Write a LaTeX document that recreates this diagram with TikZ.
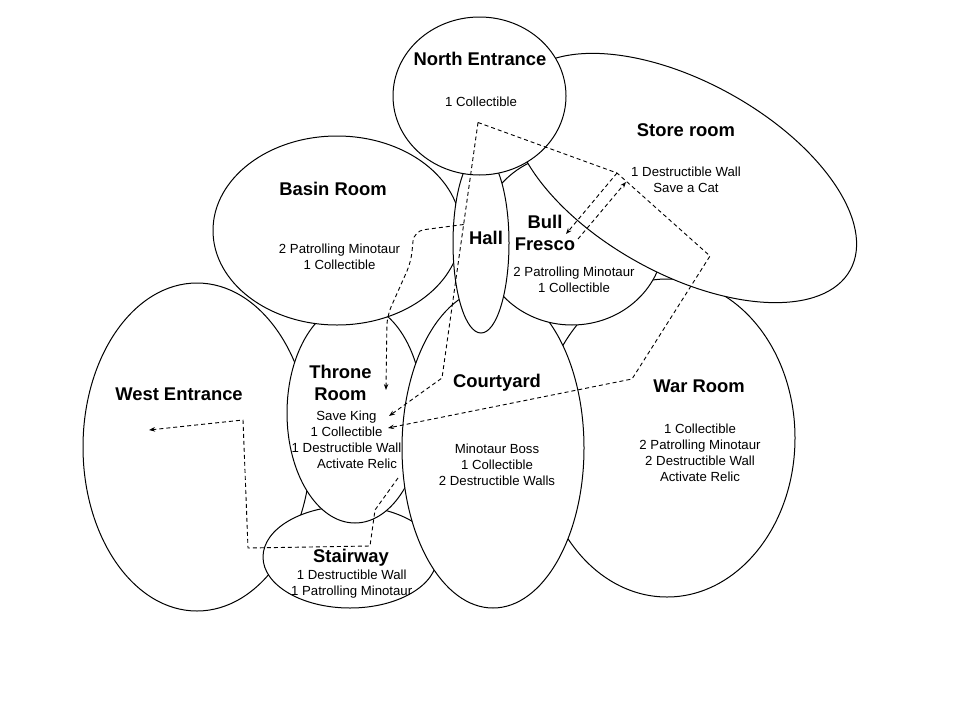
\documentclass[tikz,border=0pt]{standalone}
\usepackage{fontspec}
\setmainfont{Liberation Sans}
\usetikzlibrary{arrows.meta, shapes.geometric}

\begin{document}
\begin{tikzpicture}[x=1pt, y=-1pt,
    room/.style={draw, ellipse, fill=white, line width=1pt, inner sep=0pt},
    title/.style={font=\fontsize{18.4}{22}\selectfont\bfseries, align=center,
                  inner sep=0pt, anchor=north},
    info/.style={font=\fontsize{13.2}{16}\selectfont, align=center,
                 inner sep=0pt, anchor=north},
    route/.style={dash pattern=on 4pt off 3pt, line width=0.9pt,
                  -{Stealth[length=6pt, width=4.5pt]}}]

  \useasboundingbox (0,0) rectangle (960,720);

  % Rooms, back to front
  \node[room, minimum width=228pt, minimum height=328pt] (west) at (197,447) {};
  \node[room, minimum width=256pt, minimum height=318pt] (war) at (667,438) {};
  \node[room, minimum width=174pt, minimum height=102pt] (stair) at (350,557) {};
  \node[room, minimum width=136pt, minimum height=220pt] (throne) at (355,413) {};
  \node[room, minimum width=182pt, minimum height=320pt] (court) at (493,448) {};
  \node[room, minimum width=248pt, minimum height=189pt] (basin) at (337,230.5) {};
  \node[room, minimum width=184pt, minimum height=172pt] (bull) at (572,239) {};
  \node[room, minimum width=380pt, minimum height=192pt, rotate=-29] (store) at (684,178) {};
  \node[room, minimum width=56pt, minimum height=180pt] (hall) at (481,243) {};
  \node[room, minimum width=173pt, minimum height=158pt] (north) at (479.5,96) {};

  % Room names and contents
  \node[title] (north-title) at (480,52.4) {North Entrance};
  \node[info] (north-info) at (481,96.3) {1 Collectible};

  \node[title] (store-title) at (686,123.4) {Store room};
  \node[info] (store-info) at (686,166.8) {1 Destructible Wall\\Save a Cat};

  \node[title] (basin-title) at (333,182.4) {Basin Room};
  \node[info] (basin-info) at (339.5,243.3) {2 Patrolling Minotaur\\1 Collectible};

  \node[title] (hall-title) at (486,231.4) {Hall};

  \node[title] (bull-title) at (545,215.4) {Bull\\Fresco};
  \node[info] (bull-info) at (574,267) {2 Patrolling Minotaur\\1 Collectible};

  \node[title] (west-title) at (179,387.4) {West Entrance};

  \node[title] (throne-title) at (340.5,365.4) {Throne\\Room};
  \node[info] (throne-info) at (346.5,410.3)
    {Save King\\1 Collectible\\1 Destructible Wall\\\hspace*{21pt}Activate Relic};

  \node[title] (court-title) at (497,374.4) {Courtyard};
  \node[info] (court-info) at (497,443.5)
    {Minotaur Boss\\1 Collectible\\2 Destructible Walls};

  \node[title] (war-title) at (699,380) {War Room};
  \node[info] (war-info) at (700,423.5)
    {1 Collectible\\2 Patrolling Minotaur\\2 Destructible Wall\\Activate Relic};

  \node[title] (stair-title) at (351,549.4) {Stairway};
  \node[info] (stair-info) at (351.7,569.5) {1 Destructible Wall\\1 Patrolling Minotaur};

  % Route ends
  \coordinate (north-port) at (478,122.5);
  \coordinate (store-port) at (617,173);
  \coordinate (hall-port) at (463.6,224.5);
  \coordinate (throne-out) at (398,478);
  \coordinate (bull-out) at (578,239);
  \coordinate (throne-in-a) at (388,428);
  \coordinate (throne-in-b) at (389,416);
  \coordinate (throne-in-c) at (386,390);
  \coordinate (west-in) at (149,430);
  \coordinate (bull-in) at (566,234);
  \coordinate (store-in) at (626,182);

  % Routes
  \draw[route] (north-port) -- (store-port) -- (710,256) -- (632,379) -- (throne-in-a);
  \draw[route] (north-port) -- (442,378) -- (throne-in-b);
  \draw[route, rounded corners=10pt] (hall-port) -- (414,231) -- (411,262) -- (387,316) -- (throne-in-c);
  \draw[route] (throne-out) -- (375,510) -- (370,546) -- (248,548) -- (243,420) -- (west-in);
  \draw[route] (store-port) -- (bull-in);
  \draw[route] (bull-out) -- (store-in);
\end{tikzpicture}
\end{document}
